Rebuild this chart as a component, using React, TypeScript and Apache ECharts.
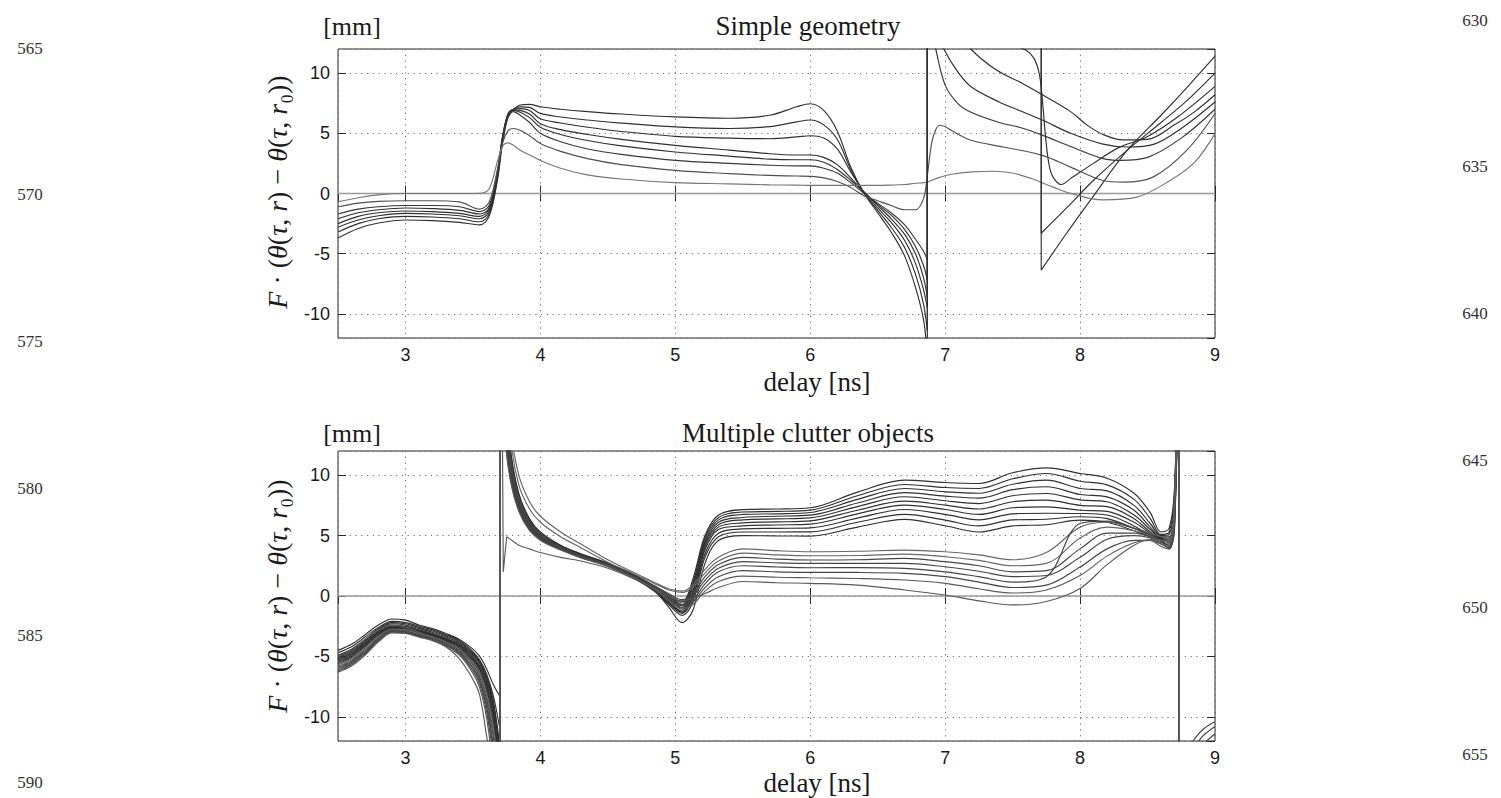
import React, { useEffect, useRef } from 'react';
import * as echarts from 'echarts';

type P = [number, number];

// ================= TOP PANEL: "Simple geometry" =================
const TOP_KNOTS = [2.5, 2.65, 2.8, 3.0, 3.2, 3.4, 3.55, 3.62, 3.68, 3.72, 3.76, 3.8, 3.85, 3.92, 4.0, 4.15, 4.35, 4.6, 5.0, 5.4, 5.7, 5.9, 6.0, 6.1, 6.2, 6.3, 6.4, 6.5, 6.6, 6.7, 6.78, 6.84, 6.868];

const TOP_A = [-3.7, -2.9, -2.45, -2.2, -2.25, -2.4, -2.6, -1.9, 1.0, 4.2, 6.3, 6.95, 7.35, 7.4, 7.2, 7.0, 6.8, 6.6, 6.36, 6.25, 6.5, 7.2, 7.45, 6.9, 5.2, 2.2, 0.0, -1.6, -3.2, -5.2, -7.8, -10.5, -13.5];
const TOP_B = [-3.2, -2.5, -2.1, -1.9, -1.95, -2.1, -2.35, -1.7, 1.2, 4.4, 6.5, 7.0, 7.2, 7.15, 6.65, 6.35, 6.1, 5.85, 5.53, 5.4, 5.55, 5.95, 6.1, 5.7, 4.5, 2.0, 0.0, -1.4, -2.8, -4.5, -6.7, -9.2, -11.4];
const TOP_C = [-2.8, -2.2, -1.85, -1.65, -1.7, -1.85, -2.1, -1.5, 1.4, 4.6, 6.6, 7.0, 7.05, 6.9, 6.2, 5.85, 5.5, 5.15, 4.75, 4.6, 4.55, 4.7, 4.8, 4.6, 3.7, 1.8, 0.1, -1.2, -2.4, -3.9, -5.8, -8.0, -9.5];
const TOP_D = [-2.5, -1.9, -1.6, -1.45, -1.5, -1.65, -1.9, -1.3, 1.5, 4.7, 6.6, 6.95, 6.9, 6.6, 5.8, 5.3, 4.9, 4.5, 4.0, 3.6, 3.3, 3.2, 3.2, 3.0, 2.4, 1.3, 0.1, -1.0, -2.1, -3.4, -5.0, -7.0, -8.6];
const TOP_E = [-2.1, -1.6, -1.35, -1.2, -1.25, -1.4, -1.7, -1.2, 1.6, 4.8, 6.5, 6.9, 6.75, 6.3, 5.5, 4.9, 4.4, 3.95, 3.45, 3.1, 2.85, 2.8, 2.8, 2.6, 2.0, 1.1, 0.1, -0.9, -1.8, -3.0, -4.4, -6.0, -7.2];
const TOP_F = [-1.7, -1.3, -1.1, -1.0, -1.0, -1.1, -1.5, -1.0, 1.8, 4.7, 6.3, 6.8, 6.5, 5.9, 5.0, 4.3, 3.7, 3.25, 2.75, 2.5, 2.35, 2.3, 2.3, 2.1, 1.7, 0.9, 0.0, -0.8, -1.6, -2.6, -3.8, -4.8, -5.5];
const TOP_G = [-1.1, -0.8, -0.65, -0.6, -0.6, -0.7, -1.3, -0.7, 1.9, 4.2, 5.2, 5.4, 5.25, 4.8, 4.15, 3.5, 2.9, 2.4, 1.92, 1.65, 1.5, 1.45, 1.42, 1.3, 1.0, 0.5, -0.2, -0.6, -1.0, -1.35, -1.35, -0.4, 1.5];
const TOP_H = [-0.7, -0.35, -0.12, 0.0, 0.0, 0.0, 0.02, 0.4, 2.6, 3.9, 4.2, 4.0, 3.6, 3.2, 2.75, 2.1, 1.55, 1.2, 0.9, 0.8, 0.72, 0.7, 0.67, 0.67, 0.67, 0.67, 0.67, 0.67, 0.7, 0.75, 0.85, 0.9, 0.95];

// continuation of each curve to the right of the 6.87 ns wrap
const TOP_A_R: P[] = [[7.712, -6.36], [7.9, -3.3], [8.1, -0.2], [8.35, 3.6], [8.6, 6.5], [8.8, 8.9], [9.0, 11.4]];
const TOP_B_R: P[] = [[7.712, -3.3], [7.9, -1.2], [8.1, 1.1], [8.35, 3.6], [8.6, 5.9], [8.8, 7.8], [9.0, 10.0]];
const TOP_C_R: P[] = [[7.3, 12.6], [7.5, 12.25], [7.6, 11.9], [7.66, 11.2], [7.7, 9.8], [7.725, 7.2], [7.745, 4.6], [7.77, 2.4], [7.8, 1.36], [7.86, 0.75], [7.94, 1.33], [8.09, 2.44], [8.29, 3.83], [8.49, 4.67], [8.72, 6.33], [9.0, 8.9]];
const TOP_D_R: P[] = [[7.1, 13.5], [7.19, 12.0], [7.38, 10.25], [7.58, 9.1], [7.72, 8.2], [7.93, 6.8], [8.05, 5.7], [8.17, 4.9], [8.32, 4.45], [8.5, 4.5], [8.7, 5.7], [8.85, 6.8], [9.0, 8.2]];
const TOP_E_R: P[] = [[6.94, 13.5], [6.99, 12.0], [7.1, 10.0], [7.2, 8.8], [7.4, 7.6], [7.55, 6.9], [7.72, 6.1], [7.93, 5.0], [8.17, 4.1], [8.35, 3.86], [8.55, 4.1], [8.75, 5.4], [9.0, 7.6]];
const TOP_F_R: P[] = [[6.89, 14.0], [6.93, 12.0], [7.0, 9.0], [7.1, 7.4], [7.2, 6.7], [7.4, 5.9], [7.55, 5.5], [7.72, 4.85], [7.93, 3.9], [8.17, 2.9], [8.3, 2.75], [8.5, 3.0], [8.75, 4.6], [9.0, 7.0]];
const TOP_G_R: P[] = [[6.9, 4.2], [6.93, 5.3], [6.96, 5.67], [7.0, 5.55], [7.1, 4.9], [7.19, 4.42], [7.43, 3.86], [7.72, 3.17], [7.93, 2.19], [8.17, 1.08], [8.32, 0.94], [8.54, 1.36], [8.79, 3.58], [9.0, 6.64]];
const TOP_H_R: P[] = [[6.95, 1.3], [7.05, 1.6], [7.2, 1.8], [7.35, 1.85], [7.5, 1.7], [7.65, 1.2], [7.8, 0.53], [7.93, 0.0], [8.17, -0.53], [8.42, -0.3], [8.67, 1.1], [8.85, 2.6], [9.0, 4.97]];

const TOP_LEFT = [TOP_A, TOP_B, TOP_C, TOP_D, TOP_E, TOP_F, TOP_G, TOP_H];
const TOP_RIGHT = [TOP_A_R, TOP_B_R, TOP_C_R, TOP_D_R, TOP_E_R, TOP_F_R, TOP_G_R, TOP_H_R];
const TOP_JOINED = [false, false, false, false, false, false, true, true];
// phase-wrap jumps: [x, from, to]
const TOP_JUMPS: [number, number, number][] = [
  [6.868, -13.5, 25], [6.868, -11.4, 25], [6.868, -9.5, 25], [6.868, -8.6, 25], [6.868, -7.2, 25], [6.868, -5.5, 25],
  [7.712, 25, -6.36], [7.712, 25, -3.3],
];

// ================= BOTTOM PANEL: "Multiple clutter objects" =================
const BOT_LEFT_KNOTS = [2.5, 2.6, 2.7, 2.8, 2.9, 3.0, 3.1, 3.2, 3.3, 3.4, 3.5, 3.55, 3.6, 3.65, 3.7];
const BOT_LEFT = [
  [-4.5, -4.0, -3.2, -2.4, -1.9, -2.0, -2.4, -2.7, -3.1, -3.6, -4.4, -5.0, -6.0, -7.3, -8.3],
  [-4.7, -4.2, -3.4, -2.6, -2.1, -2.2, -2.5, -2.8, -3.2, -3.7, -4.6, -5.3, -6.4, -8.2, -11.0],
  [-4.9, -4.4, -3.6, -2.7, -2.2, -2.3, -2.6, -2.9, -3.3, -3.8, -4.7, -5.4, -6.6, -8.6, -12.5],
  [-5.0, -4.5, -3.7, -2.8, -2.3, -2.4, -2.7, -3.0, -3.4, -3.9, -4.8, -5.5, -6.7, -8.8, -13],
  [-5.1, -4.6, -3.8, -2.9, -2.4, -2.5, -2.8, -3.1, -3.5, -4.0, -4.9, -5.6, -6.9, -9.0, -13],
  [-5.2, -4.7, -3.9, -3.0, -2.5, -2.55, -2.85, -3.15, -3.55, -4.05, -5.0, -5.8, -7.0, -9.2, -13],
  [-5.3, -4.8, -3.95, -3.05, -2.55, -2.6, -2.9, -3.2, -3.6, -4.1, -5.1, -5.9, -7.2, -9.5, -14],
  [-5.4, -4.9, -4.0, -3.1, -2.6, -2.65, -2.95, -3.25, -3.65, -4.15, -5.2, -6.0, -7.4, -9.8, -14],
  [-5.5, -5.0, -4.1, -3.2, -2.65, -2.7, -3.0, -3.3, -3.7, -4.25, -5.3, -6.1, -7.6, -10.2, -14],
  [-5.6, -5.1, -4.2, -3.3, -2.7, -2.75, -3.05, -3.35, -3.75, -4.3, -5.4, -6.3, -7.8, -10.5, -15],
  [-5.7, -5.2, -4.3, -3.35, -2.75, -2.8, -3.1, -3.4, -3.8, -4.4, -5.5, -6.4, -8.0, -10.8, -15],
  [-5.8, -5.3, -4.4, -3.4, -2.8, -2.85, -3.15, -3.45, -3.85, -4.45, -5.6, -6.5, -8.2, -11.2, -15],
  [-5.9, -5.4, -4.5, -3.5, -2.85, -2.9, -3.2, -3.5, -3.9, -4.5, -5.7, -6.7, -8.5, -11.6, -16],
  [-6.0, -5.5, -4.6, -3.55, -2.9, -2.95, -3.25, -3.55, -4.0, -4.6, -5.9, -6.9, -8.8, -12.2, -16],
  [-6.1, -5.6, -4.7, -3.6, -2.95, -3.0, -3.3, -3.6, -4.05, -4.7, -6.0, -7.1, -9.1, -12.6, -16],
  [-6.2, -5.7, -4.8, -3.7, -3.0, -3.05, -3.35, -3.65, -4.1, -4.8, -6.2, -7.3, -9.5, -13, -16],
  [-6.3, -5.8, -4.9, -3.8, -3.05, -3.1, -3.4, -3.7, -4.2, -4.9, -6.4, -7.6, -10, -14, -17],
  [-5.0, -4.5, -3.6, -2.8, -2.4, -2.6, -3.0, -3.5, -4.2, -5.2, -6.9, -8.2, -11.5, -15, -18],
];

const BOT_MID_KNOTS = [3.705, 3.74, 3.78, 3.84, 3.92, 4.0, 4.15, 4.3, 4.5, 4.7, 4.85, 4.95, 5.05, 5.13, 5.22, 5.32, 5.5, 5.75, 6.0, 6.35, 6.7, 7.0, 7.25, 7.5, 7.75, 8.0, 8.2, 8.4, 8.52, 8.6, 8.66, 8.7, 8.735];
const BOT_MID = [
  [25, 17, 11.5, 8.2, 6.2, 5.1, 4.1, 3.4, 2.7, 1.7, 0.8, 0.1, -0.5, 1.4, 5.0, 6.7, 7.15, 7.2, 7.3, 8.6, 9.59, 9.39, 9.31, 10.2, 10.6, 10.14, 9.75, 8.5, 6.9, 5.3, 5.6, 9.0, 25],
  [25, 16, 11.0, 7.9, 6.0, 5.0, 4.0, 3.35, 2.65, 1.65, 0.7, 0.0, -0.7, 1.1, 4.8, 6.5, 6.95, 7.0, 7.11, 8.3, 9.23, 8.98, 8.9, 9.7, 10.14, 9.5, 9.2, 8.0, 6.4, 5.1, 5.3, 8.6, 25],
  [25, 15, 10.5, 7.6, 5.8, 4.9, 3.95, 3.3, 2.6, 1.6, 0.65, -0.1, -0.8, 0.9, 4.6, 6.3, 6.75, 6.8, 6.91, 8.0, 8.9, 8.62, 8.5, 9.25, 9.59, 8.9, 8.7, 7.5, 6.0, 5.0, 5.1, 8.2, 25],
  [25, 14, 10.0, 7.3, 5.6, 4.75, 3.9, 3.25, 2.55, 1.55, 0.55, -0.25, -0.95, 0.7, 4.4, 6.1, 6.5, 6.6, 6.69, 7.7, 8.55, 8.26, 8.1, 8.8, 9.04, 8.4, 8.2, 7.1, 5.7, 4.9, 4.9, 7.8, 25],
  [25, 18, 12.0, 8.5, 6.3, 5.2, 4.15, 3.45, 2.7, 1.7, 0.75, -0.3, -1.1, 0.4, 4.2, 5.9, 6.3, 6.38, 6.47, 7.4, 8.21, 7.88, 7.65, 8.3, 8.48, 7.95, 7.8, 6.7, 5.5, 4.85, 4.8, 7.4, 25],
  [25, 15, 10.8, 7.7, 5.9, 4.95, 4.0, 3.3, 2.55, 1.5, 0.5, -0.45, -1.25, 0.2, 4.0, 5.7, 6.05, 6.13, 6.22, 7.1, 7.85, 7.52, 7.2, 7.8, 7.93, 7.5, 7.4, 6.4, 5.3, 4.8, 4.7, 7.0, 25],
  [25, 13, 9.6, 7.1, 5.5, 4.7, 3.85, 3.2, 2.5, 1.45, 0.45, -0.55, -1.35, 0.0, 3.8, 5.5, 5.8, 5.88, 5.95, 6.8, 7.52, 7.16, 6.75, 7.3, 7.38, 7.1, 7.0, 6.1, 5.2, 4.75, 4.6, 6.6, 25],
  [25, 16, 11.2, 8.0, 6.1, 5.05, 4.05, 3.35, 2.6, 1.55, 0.5, -0.6, -1.45, -0.2, 3.5, 5.2, 5.55, 5.6, 5.64, 6.45, 7.16, 6.75, 6.3, 6.8, 6.85, 6.83, 6.7, 5.8, 5.05, 4.7, 4.4, 6.2, 25],
  [25, 14, 10.2, 7.4, 5.7, 4.8, 3.9, 3.2, 2.45, 1.4, 0.35, -0.7, -1.6, -0.5, 3.2, 4.9, 5.3, 5.3, 5.31, 6.1, 6.75, 6.28, 5.8, 6.3, 6.35, 6.56, 6.4, 5.6, 5.0, 4.65, 4.1, 5.8, 25],
  [25, 17, 11.8, 8.4, 6.4, 5.3, 4.2, 3.5, 2.7, 1.6, 0.4, -0.9, -2.2, -1.2, 2.7, 4.6, 5.0, 4.97, 4.96, 5.7, 6.34, 5.81, 5.3, 5.8, 5.9, 6.28, 6.1, 5.4, 4.9, 4.6, 3.9, 5.5, 25],
  [25, 25, 14, 10.0, 7.8, 6.6, 5.3, 4.3, 3.0, 1.9, 1.1, 0.6, 0.4, 0.9, 2.2, 3.2, 3.9, 3.75, 3.66, 3.7, 3.8, 3.66, 3.4, 3.0, 3.6, 5.7, 6.1, 5.6, 5.2, 4.9, 4.7, 8.0, 25],
  [25, 22, 13, 9.2, 7.2, 6.1, 4.9, 4.0, 2.8, 1.8, 1.0, 0.5, 0.3, 0.7, 1.9, 2.9, 3.55, 3.4, 3.33, 3.35, 3.47, 3.25, 2.95, 2.5, 2.7, 4.8, 5.7, 5.4, 5.0, 4.6, 4.5, 7.5, 25],
  [25, 16, 11.2, 8.0, 6.0, 5.0, 4.0, 3.3, 2.6, 1.6, 0.8, 0.2, -0.3, 0.2, 1.6, 2.6, 3.2, 3.05, 2.98, 3.0, 3.11, 2.84, 2.5, 2.0, 2.1, 3.9, 5.2, 5.2, 4.9, 4.4, 4.3, 7.0, 25],
  [25, 15, 10.6, 7.7, 5.8, 4.85, 3.95, 3.25, 2.55, 1.55, 0.7, 0.0, -0.5, 0.0, 1.3, 2.3, 2.85, 2.75, 2.7, 2.7, 2.7, 2.42, 2.05, 1.6, 1.7, 3.2, 4.7, 5.0, 4.8, 4.3, 4.0, 6.5, 25],
  [25, 14, 10.0, 7.3, 5.6, 4.7, 3.85, 3.2, 2.5, 1.5, 0.6, -0.1, -0.7, -0.3, 1.0, 2.0, 2.5, 2.4, 2.34, 2.35, 2.29, 2.0, 1.6, 1.15, 1.6, 6.0, 6.2, 5.6, 5.1, 4.5, 4.2, 6.0, 25],
  [25, 17, 11.5, 8.2, 6.2, 5.1, 4.05, 3.35, 2.6, 1.6, 0.65, -0.2, -0.8, -0.5, 0.7, 1.6, 2.1, 2.0, 1.96, 1.95, 1.87, 1.6, 1.15, 0.7, 0.9, 2.4, 3.9, 4.6, 4.6, 4.1, 3.9, 6.5, 25],
  [25, 13, 9.4, 7.0, 5.4, 4.6, 3.8, 3.15, 2.45, 1.45, 0.5, -0.35, -1.0, -0.7, 0.4, 1.2, 1.65, 1.55, 1.51, 1.45, 1.32, 1.05, 0.6, 0.25, 0.5, 1.7, 3.3, 4.4, 4.6, 4.3, 4.2, 7.0, 25],
  // this one starts with the narrow notch at 3.72 ns (see BOT_NOTCH); its first three knots are unused
  [25, 25, 25, 4.2, 3.9, 3.6, 3.2, 2.9, 2.3, 1.4, 0.6, 0.0, -0.4, -0.2, 0.2, 0.7, 1.2, 1.1, 1.05, 0.9, 0.5, 0.08, -0.4, -0.74, -0.45, 0.63, 2.6, 4.2, 4.7, 4.6, 4.6, 8.0, 25],
];
const BOT_NOTCH: P[] = [[3.712, 25], [3.725, 2.0], [3.75, 4.9]];
const BOT_NOTCH_TAIL: P[] = [[3.75, 4.9], [3.79, 4.6]];
const BOT_NOTCH_INDEX = 17;
const BOT_JUMP_X = [3.7, 8.735];
const BOT_TAILS: P[][] = [
  [[8.78, -13], [8.85, -11.8], [8.92, -10.95], [9.0, -10.4]],
  [[8.82, -13], [8.9, -11.7], [8.95, -11.2], [9.0, -10.8]],
  [[8.86, -13], [8.93, -12.1], [9.0, -11.4]],
];

const ZERO_LINE: P[] = [[2.5, 0], [9, 0]];
const X_MIN = 2.5, X_MAX = 9, Y_MIN = -12, Y_MAX = 12;

const TITLES = ['Simple geometry', 'Multiple clutter objects'];
const UNIT = '[mm]';
const X_NAME = 'delay [ns]';
const Y_NAME = '{i|F} · ({i|θ}({i|τ}, {i|r}) − {i|θ}({i|τ}, {i|r}₀))';
const LINE_NUMS_LEFT = ['565', '570', '575', '580', '585', '590'];
const LINE_NUMS_RIGHT = ['630', '635', '640', '645', '650', '655'];

const pairs = (xs: number[], ys: number[], from = 0): P[] =>
  xs.slice(from).map((x, i) => [x, ys[i + from]] as P);

const SERIF = '"Liberation Serif", "DejaVu Serif", "Times New Roman", serif';
const SANS = '"Liberation Sans", Arial, Helvetica, sans-serif';

export default function App() {
  const ref = useRef<HTMLDivElement>(null);
  useEffect(() => {
    if (!ref.current) return;
    const chart = echarts.init(ref.current, undefined, { renderer: 'svg' });
    const series: any[] = [];
    const add = (grid: number, data: P[], color: string, smooth: number | boolean, width = 1.15, z = 3) => {
      series.push({
        type: 'line', xAxisIndex: grid * 2, yAxisIndex: grid * 2, data, smooth,
        symbol: 'none', showSymbol: false, silent: true, clip: true, z,
        lineStyle: { color, width }, emphasis: { disabled: true },
      });
    };

    // zero reference lines
    add(0, ZERO_LINE, '#9a9a9a', false, 1.7, 2);
    add(1, ZERO_LINE, '#9a9a9a', false, 1.7, 2);

    // top panel
    const topColors = ['#303030', '#303030', '#303030', '#303030', '#303030', '#383838', '#505050', '#767676'];
    TOP_LEFT.forEach((ys, i) => {
      const left = pairs(TOP_KNOTS, ys);
      if (TOP_JOINED[i]) {
        add(0, left.concat(TOP_RIGHT[i]), topColors[i], 0.35);
      } else {
        add(0, left, topColors[i], 0.35);
        add(0, TOP_RIGHT[i], topColors[i], 0.35);
      }
    });
    TOP_JUMPS.forEach(([x, a, b]) => add(0, [[x, a], [x, b]], '#303030', false));

    // bottom panel
    const botColor = (i: number) => (i < 10 ? '#303030' : i < 12 ? '#666' : i < 16 ? '#464646' : '#5a5a5a');
    BOT_LEFT.forEach((ys, i) => {
      const c = botColor(i);
      add(1, pairs(BOT_LEFT_KNOTS, ys), c, 0.35);
      add(1, [[BOT_JUMP_X[0], ys[ys.length - 1]], [BOT_JUMP_X[0], 25]], c, false);
    });
    BOT_MID.forEach((ys, i) => {
      const c = botColor(i);
      if (i === BOT_NOTCH_INDEX) {
        add(1, BOT_NOTCH, c, false);
        add(1, BOT_NOTCH_TAIL.concat(pairs(BOT_MID_KNOTS, ys, 3)), c, 0.35);
      } else {
        add(1, pairs(BOT_MID_KNOTS, ys), c, 0.35);
      }
      add(1, [[BOT_JUMP_X[1], 25], [BOT_JUMP_X[1], -25]], c, false);
    });
    BOT_TAILS.forEach((t) => add(1, t, '#444', 0.35));

    const grids = [
      { left: 338, top: 49, width: 877, height: 289 },
      { left: 338, top: 451, width: 877, height: 290 },
    ];
    const tick = { show: true, inside: true, length: 8, lineStyle: { color: '#2b2b2b', width: 1 } };
    const split = { show: true, lineStyle: { color: '#6e6e6e', type: [1.2, 4.6], width: 1 } };
    const xAxis: any[] = [];
    const yAxis: any[] = [];
    [0, 1].forEach((g) => {
      xAxis.push({
        type: 'value', gridIndex: g, position: 'bottom', min: X_MIN, max: X_MAX,
        axisLine: { show: false }, axisTick: tick, splitLine: split,
        axisLabel: { show: true, showMinLabel: false, color: '#1a1a1a', fontFamily: SANS, fontSize: 18, margin: 8 },
      });
      xAxis.push({
        type: 'value', gridIndex: g, position: 'top', min: X_MIN, max: X_MAX,
        axisLine: { show: false }, axisTick: tick, splitLine: { show: false }, axisLabel: { show: false },
      });
      yAxis.push({
        type: 'value', gridIndex: g, position: 'left', min: Y_MIN, max: Y_MAX,
        axisLine: { show: false }, axisTick: tick, splitLine: split,
        axisLabel: { show: true, showMinLabel: false, showMaxLabel: false, color: '#1a1a1a', fontFamily: SANS, fontSize: 18, margin: 8 },
      });
      yAxis.push({
        type: 'value', gridIndex: g, position: 'right', min: Y_MIN, max: Y_MAX,
        axisLine: { show: false }, axisTick: tick, splitLine: { show: false }, axisLabel: { show: false },
      });
    });

    const txt = (x: number, y: number, text: string, size: number, fill = '#1a1a1a') => ({
      type: 'text', x, y, silent: true, z: 10,
      style: {
        text, fontFamily: SERIF, fontSize: size, fill,
        align: 'center', verticalAlign: 'middle', textAlign: 'center', textVerticalAlign: 'middle',
      },
    });
    const elements: any[] = [];
    const panelY = [[26, 382, 192], [433, 783, 596]];
    panelY.forEach(([ty, xy, my], i) => {
      elements.push(txt(352, ty, UNIT, 26));
      elements.push(txt(808, ty, TITLES[i], 27));
      elements.push(txt(817, xy, X_NAME, 27));
      elements.push({
        type: 'text', x: 277, y: my, rotation: Math.PI / 2, silent: true, z: 10,
        style: {
          text: Y_NAME, fontFamily: SERIF, fontSize: 28, fill: '#1a1a1a',
          align: 'center', verticalAlign: 'middle', textAlign: 'center', textVerticalAlign: 'middle',
          rich: { i: { fontStyle: 'italic', fontFamily: SERIF, fontSize: 28, fill: '#1a1a1a' } },
        },
      });
    });
    LINE_NUMS_LEFT.forEach((t, i) => elements.push(txt(30, 48 + i * 146.8, t, 17, '#333')));
    LINE_NUMS_RIGHT.forEach((t, i) => elements.push(txt(1475, 20 + i * 146.8, t, 17, '#333')));

    chart.setOption({
      animation: false,
      backgroundColor: '#ffffff',
      grid: grids.map((g) => ({ ...g, show: true, borderColor: '#262626', borderWidth: 1, backgroundColor: 'transparent', containLabel: false, outerBoundsMode: 'none' })),
      xAxis, yAxis, series,
      graphic: { elements },
    });
    return () => chart.dispose();
  }, []);
  return <div ref={ref} style={{ position: 'absolute', left: 0, top: 0, width: 1501, height: 798, background: '#fff' }} />;
}
